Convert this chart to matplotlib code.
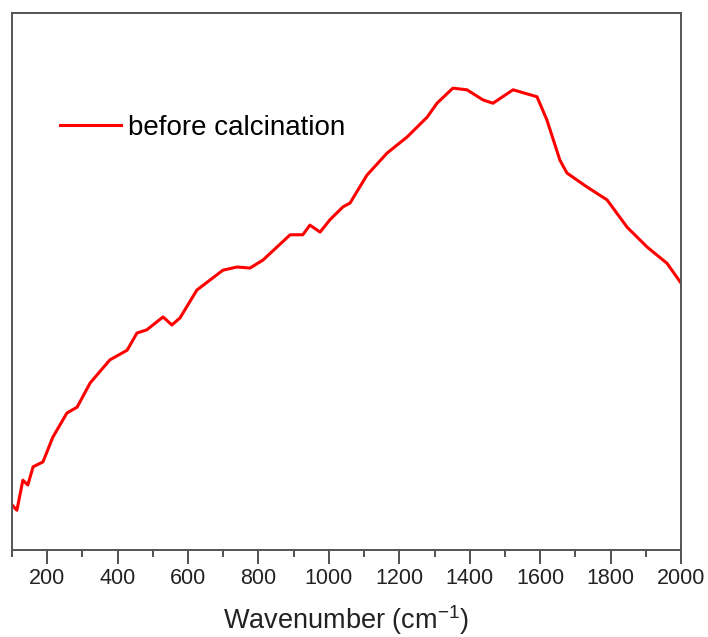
import matplotlib.pyplot as plt
from matplotlib.ticker import MultipleLocator

# Raman spektrumu (kalsinasyon öncesi)
wavenumber = [100, 114, 131, 145, 160, 188, 216, 256, 285, 322, 378, 427, 455,
              483, 529, 554, 577, 625, 699, 739, 776, 813, 890, 926, 946, 975,
              1003, 1040, 1060, 1108, 1165, 1222, 1279, 1307, 1352, 1392, 1438,
              1466, 1523, 1591, 1619, 1656, 1676, 1733, 1790, 1847, 1904, 1960,
              2000]
intensity = [0.084, 0.074, 0.130, 0.121, 0.155, 0.164, 0.210, 0.255, 0.266,
             0.311, 0.354, 0.372, 0.404, 0.410, 0.434, 0.419, 0.432, 0.484,
             0.521, 0.527, 0.525, 0.540, 0.587, 0.587, 0.605, 0.592, 0.615,
             0.639, 0.646, 0.698, 0.739, 0.769, 0.806, 0.832, 0.860, 0.857,
             0.838, 0.832, 0.857, 0.844, 0.801, 0.726, 0.702, 0.676, 0.652,
             0.601, 0.564, 0.534, 0.497]

plt.rcParams['font.family'] = ['Liberation Sans', 'DejaVu Sans']
plt.rcParams['mathtext.default'] = 'regular'

fig = plt.figure(figsize=(7.08, 6.37), dpi=100)
ax = fig.add_axes([0.0169, 0.1366, 0.9450, 0.8430])

ax.plot(wavenumber, intensity, color='#ff0000', linewidth=2.2,
        label='before calcination')

ax.set_xlim(100, 2000)
ax.set_ylim(0, 1)
ax.xaxis.set_major_locator(MultipleLocator(200))
ax.xaxis.set_minor_locator(MultipleLocator(100))
ax.set_xticks([200, 400, 600, 800, 1000, 1200, 1400, 1600, 1800, 2000])
ax.set_yticks([])
ax.tick_params(axis='x', which='major', direction='out', length=10, width=1.2,
               labelsize=15.5, pad=3, colors='#333333', labelcolor='#222222')
ax.tick_params(axis='x', which='minor', direction='out', length=5, width=1.2,
               colors='#333333')

for sp in ax.spines.values():
    sp.set_color('#555555')
    sp.set_linewidth(1.4)

ax.set_xlabel('Wavenumber (cm$^{-1}$)', fontsize=19.5, labelpad=10,
              color='#222222')

# Lejant: çerçevesiz, sol üstte
ax.legend(loc='center left', bbox_to_anchor=(0.072, 0.786), frameon=False,
          fontsize=20, handlelength=2.2, handletextpad=0.25,
          borderpad=0, borderaxespad=0)

fig.savefig('out.png', dpi=100)
